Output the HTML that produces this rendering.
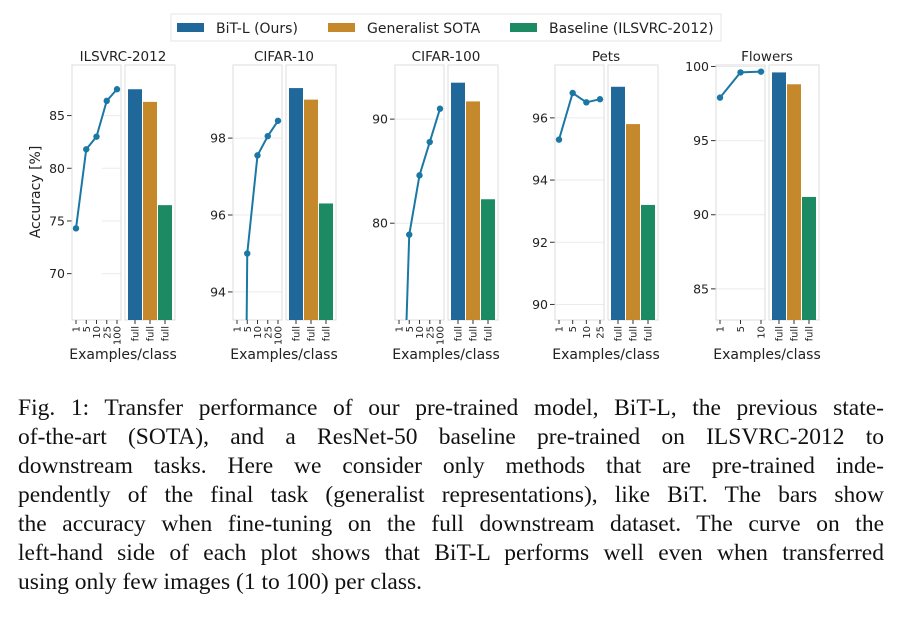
<!DOCTYPE html>
<html><head><meta charset="utf-8"><style>
html,body{margin:0;padding:0;background:#fff;width:913px;height:627px;overflow:hidden}
#chart{position:absolute;left:0;top:0;display:block}
.cap{position:absolute;left:18px;width:866px;height:203px;overflow:hidden;font-family:"Liberation Serif",serif;font-size:23.5px;line-height:29px;color:#111}
.cap div{text-align:justify;text-align-last:justify;white-space:nowrap;height:29px;overflow:hidden}
.cap div.last{text-align-last:left}
svg text{font-family:"DejaVu Sans","Liberation Sans",sans-serif;fill:#222}
</style></head><body>
<svg id="chart" width="913" height="380" xmlns="http://www.w3.org/2000/svg"></svg>
<div class="cap" style="top:394px">
<div>Fig. 1: Transfer performance of our pre-trained model, BiT-L, the previous state-</div>
<div>of-the-art (SOTA), and a ResNet-50 baseline pre-trained on ILSVRC-2012 to</div>
<div>downstream tasks. Here we consider only methods that are pre-trained inde-</div>
<div>pendently of the final task (generalist representations), like BiT. The bars show</div>
<div>the accuracy when fine-tuning on the full downstream dataset. The curve on the</div>
<div>left-hand side of each plot shows that BiT-L performs well even when transferred</div>
<div class="last">using only few images (1 to 100) per class.</div>
</div>
<script>
const datasets = ["ILSVRC-2012","CIFAR-10","CIFAR-100","Pets","Flowers"];
const shotLabels = [["1","5","10","25","100"],["1","5","10","25","100"],["1","5","10","25","100"],["1","5","10","25"],["1","5","10"]];
const shotValues = [[74.3,81.8,83.0,86.4,87.5],[64.4,95.0,97.55,98.05,98.45],[48.0,78.9,84.6,87.8,91.0],[95.3,96.8,96.5,96.6],[97.9,99.6,99.65]];
const bitBars = [87.5,99.3,93.5,97.0,99.6];
const sotaBars = [86.3,99.0,91.7,95.8,98.8];
const baseBars = [76.5,96.3,82.3,93.2,91.2];
const yTicks = [[70,75,80,85],[94,96,98],[80,90],[90,92,94,96],[85,90,95,100]];
const yRanges = [[65.6,89.8],[93.27,99.9],[70.7,95.2],[89.5,97.7],[82.9,100.1]];
const seriesNames = ["BiT-L (Ours)","Generalist SOTA","Baseline (ILSVRC-2012)"];

const colors = ["#21689a","#c5882b","#1c8a63"];
const lineColor = "#1b78a5";
const panelX = [72,233,395,555,716];
const yTop = 65, yBot = 320, lineW = 49, gap = 4, barBoxW = 50;
const svg = document.getElementById('chart');
const NS = "http://www.w3.org/2000/svg";
function mk(tag, attrs, parent){const e=document.createElementNS(NS,tag);for(const k in attrs)e.setAttribute(k,attrs[k]);(parent||svg).appendChild(e);return e;}

const lg = mk('g',{});


mk('rect',{x:171,y:14,width:550,height:27,fill:'#fff',stroke:'#e4e4e4'},lg);
const lgX=[177,328,510];
seriesNames.forEach((n,i)=>{
  const g=mk('g',{},lg);
  
  
  mk('rect',{x:lgX[i],y:23,width:27,height:9,fill:colors[i]},g);
  const t=mk('text',{x:lgX[i]+39,y:33,'font-size':14},g);t.textContent=n;
});

datasets.forEach((ds,p)=>{
  const x0=panelX[p];
  const g=mk('g',{});
  
  
  const [ymin,ymax]=yRanges[p];
  const Y=v=>yBot-(v-ymin)/(ymax-ymin)*(yBot-yTop);
  const labs=shotLabels[p], n=labs.length;
  const X=i=>x0+4+i*(lineW-8)/(n-1);
  const bx0=x0+lineW+gap+3;
  const tt=mk('text',{x:x0+(lineW*2+gap)/2,y:61,'text-anchor':'middle','font-size':13.5},g);
  
  
  tt.textContent=ds;
  yTicks[p].forEach(v=>{
    const y=Y(v);
    mk('line',{x1:x0+(p==0?30:0),x2:x0+lineW,y1:y,y2:y,stroke:'#ebebeb','stroke-width':1},g);
    mk('line',{x1:x0-5,x2:x0,y1:y,y2:y,stroke:'#333','stroke-width':1},g);
    const t=mk('text',{x:x0-7,y:y+4.5,'text-anchor':'end','font-size':12.5},g);t.textContent=v;
  });
  mk('rect',{x:x0,y:yTop,width:lineW,height:yBot-yTop,fill:'none',stroke:'#dcdcdc'},g);
  mk('rect',{x:x0+lineW+gap,y:yTop,width:barBoxW,height:yBot-yTop,fill:'none',stroke:'#dcdcdc'},g);
  const cp=mk('clipPath',{id:'cl'+p},g);
  mk('rect',{x:x0,y:yTop-6,width:lineW+6,height:yBot-yTop+6},cp);
  const lg2=mk('g',{'clip-path':'url(#cl'+p+')'},g);
  
  
  const vals=shotValues[p];
  mk('polyline',{points:vals.map((v,i)=>X(i)+','+Y(v)).join(' '),fill:'none',stroke:lineColor,'stroke-width':2},lg2);
  vals.forEach((v,i)=>{const c=mk('circle',{cx:X(i),cy:Y(v),r:3.2,fill:lineColor},lg2);
    
    });
  labs.forEach((l,i)=>{
    mk('line',{x1:X(i),x2:X(i),y1:yBot,y2:yBot+4,stroke:'#333'},g);
    const t=mk('text',{x:0,y:0,'font-size':10,'text-anchor':'end',transform:`translate(${X(i)+3.5},${yBot+6}) rotate(-90)`},g);t.textContent=l;
  });
  const bv=[bitBars[p],sotaBars[p],baseBars[p]];
  bv.forEach((v,i)=>{
    const bx=bx0+i*15;
    const r=mk('rect',{x:bx,y:Y(v),width:14,height:yBot-Y(v),fill:colors[i]},g);
    
    
    mk('line',{x1:bx+7,x2:bx+7,y1:yBot,y2:yBot+4,stroke:'#333'},g);
    const t=mk('text',{x:0,y:0,'font-size':10,'text-anchor':'end',transform:`translate(${bx+10.5},${yBot+6}) rotate(-90)`},g);t.textContent='full';
  });
  const xl=mk('text',{x:x0+(lineW*2+gap)/2,y:359,'text-anchor':'middle','font-size':14},g);
  
  
  xl.textContent='Examples/class';
});
const yt=mk('text',{x:0,y:0,'font-size':14,'text-anchor':'middle',transform:'translate(40,192) rotate(-90)'});


yt.textContent='Accuracy [%]';
</script>
</body></html>
